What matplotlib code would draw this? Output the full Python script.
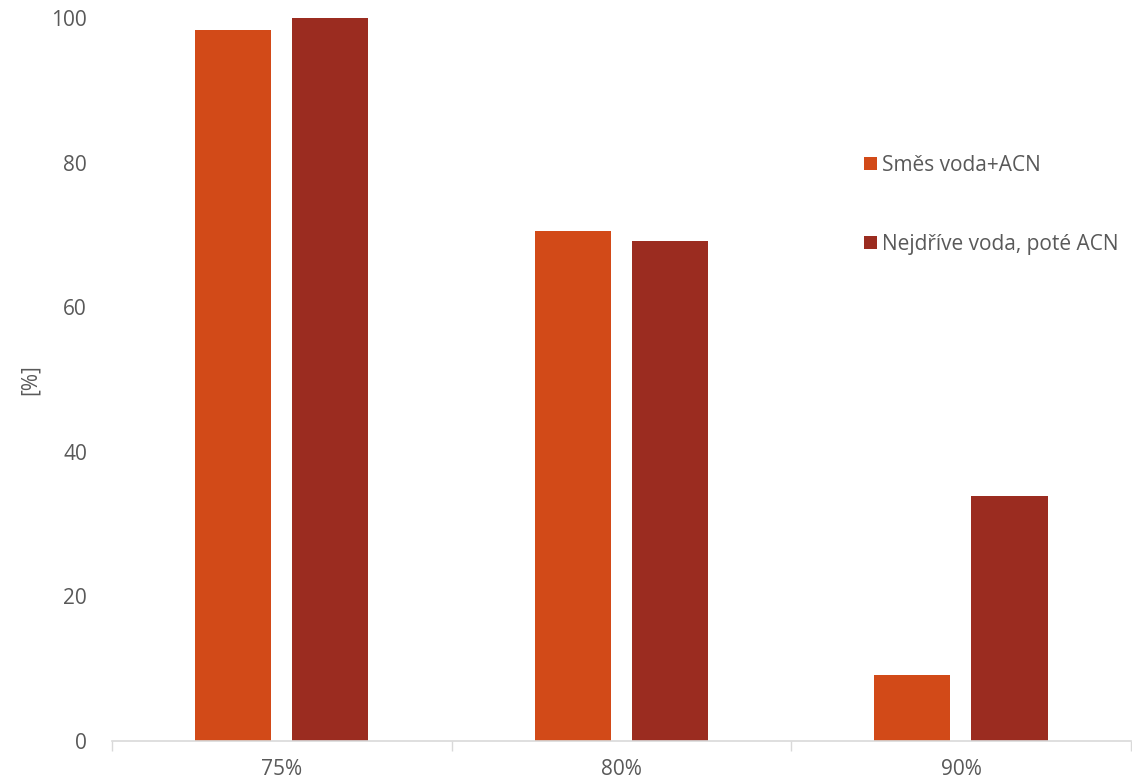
import matplotlib.pyplot as plt
import numpy as np

plt.rcParams['font.family'] = ['Open Sans', 'DejaVu Sans']

# Data
categories = ["75%", "80%", "90%"]
mix = [98.3, 70.5, 9.1]
sequential = [100.0, 69.2, 33.9]
labels = ["Směs voda+ACN", "Nejdříve voda, poté ACN"]
colors = ["#D24A18", "#9B2C20"]
text_color = "#595959"

x = np.arange(len(categories))
width = 0.224
offset = 0.143

fig = plt.figure(figsize=(11.32, 7.84), dpi=100)
ax = fig.add_axes([0.0989, 0.0548, 0.9, 0.977 - 0.0548])

ax.bar(x - offset, mix, width, color=colors[0], label=labels[0])
ax.bar(x + offset, sequential, width, color=colors[1], label=labels[1])

ax.set_xlim(-0.5, len(categories) - 0.5)
ax.set_ylim(0, 100)
ax.set_yticks(np.arange(0, 101, 20))

# category labels centered, tick marks on category boundaries
ax.set_xticks(x)
ax.set_xticklabels(categories)
ax.set_xticks(np.arange(-0.5, len(categories), 1), minor=True)
ax.tick_params(axis='x', which='major', length=0, pad=13, labelsize=15, labelcolor=text_color)
ax.tick_params(axis='x', which='minor', length=7, width=1, color='#d9d9d9')
ax.tick_params(axis='y', length=0, pad=18, labelsize=15, labelcolor=text_color)

for side in ['top', 'right', 'left']:
    ax.spines[side].set_visible(False)
ax.spines['bottom'].set_color('#d9d9d9')
ax.spines['bottom'].set_linewidth(1.2)

fig.text(30 / 1132, 1 - 380 / 784, "[%]", rotation=90, ha='center', va='center',
         fontsize=15, color=text_color)

ax.legend(loc='upper left', bbox_to_anchor=(0.72, 0.837), frameon=False,
          fontsize=15, labelcolor=text_color, handlelength=0.6, handleheight=0.6,
          handletextpad=0.25, labelspacing=2.8)

fig.savefig("out.png", dpi=100)
